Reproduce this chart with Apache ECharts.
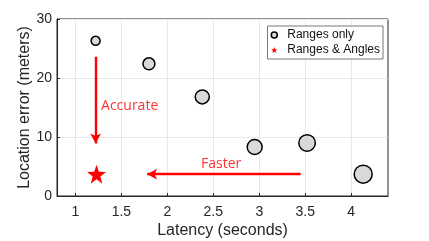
<!DOCTYPE html>
<html><head><meta charset="utf-8">
<script src="https://cdn.jsdelivr.net/npm/echarts@6/dist/echarts.min.js"></script>
<style>html,body{margin:0;padding:0;background:#fff}#c{width:429px;height:241px}</style>
</head><body><div id="c"></div>
<script>
const latency = [1.22, 1.80, 2.38, 2.95, 3.52, 4.13];
const error = [26.3, 22.4, 16.8, 8.3, 9.0, 3.7];
const markerSize = [9, 12, 14, 15, 16.5, 18];
const starPoint = [1.23, 3.7];
const xTicks = [1, 1.5, 2, 2.5, 3, 3.5, 4];
const yTicks = [0, 10, 20, 30];
const accurateArrow = [[1.22, 23.6], [1.22, 8.9]];
const fasterArrow = [[3.45, 3.7], [1.78, 3.7]];
const annotations = [{text: 'Accurate', pos: [1.59, 15.3]}, {text: 'Faster', pos: [2.585, 5.36]}];

const chart = echarts.init(document.getElementById('c'), null, {renderer: 'canvas'});
const font = 'Liberation Sans, Arial, sans-serif';
const redc = '#ff0000';
const starPath = 'path://M0,-10 L2.35,-3.24 L9.51,-3.09 L3.8,1.24 L5.88,8.09 L0,4 L-5.88,8.09 L-3.8,1.24 L-9.51,-3.09 L-2.35,-3.24 Z';
chart.setOption({
  animation: false,
  backgroundColor: '#fff',
  grid: {left: 57, right: 41, top: 19, bottom: 45, show: true, borderColor: '#262626', borderWidth: 1,
    containLabel: false, outerBoundsMode: 'none'},
  legend: {
    right: 46, top: 26, orient: 'vertical', itemGap: 3, itemWidth: 16, itemHeight: 6,
    padding: [3, 3, 3, 3],
    borderColor: '#555', borderWidth: 0.8, backgroundColor: '#fff',
    textStyle: {fontFamily: font, fontSize: 12, color: '#111', padding: [0, 0, 0, 0]},
    data: [
      {name: 'Ranges only', icon: 'circle', itemStyle: {color: '#d9d9d9', borderColor: '#000', borderWidth: 1.5}},
      {name: 'Ranges & Angles', icon: starPath, itemStyle: {color: redc}}
    ]
  },
  xAxis: {
    type: 'value', min: 0.8, max: 4.4,
    name: 'Latency (seconds)', nameLocation: 'middle', nameGap: 27, nameMoveOverlap: false,
    nameTextStyle: {fontFamily: font, fontSize: 16, color: '#262626'},
    axisLine: {show: true, lineStyle: {color: '#262626'}},
    axisTick: {show: true, inside: true, length: 3, lineStyle: {color: '#262626'}, customValues: xTicks},
    axisLabel: {fontFamily: font, fontSize: 14, color: '#262626', margin: 9, customValues: xTicks},
    splitLine: {show: true, lineStyle: {color: '#e8e8e8'}, customValues: xTicks}
  },
  yAxis: {
    type: 'value', min: 0, max: 30, interval: 10,
    name: 'Location error (meters)', nameLocation: 'middle', nameGap: 24, nameMoveOverlap: false,
    nameTextStyle: {fontFamily: font, fontSize: 16, color: '#262626'},
    axisLine: {show: true, lineStyle: {color: '#262626'}},
    axisTick: {show: true, inside: true, length: 3, lineStyle: {color: '#262626'}},
    axisLabel: {fontFamily: font, fontSize: 14, color: '#262626', margin: 5},
    splitLine: {show: true, lineStyle: {color: '#e8e8e8'}}
  },
  series: [
    {
      name: 'Ranges only', type: 'scatter', z: 5,
      data: latency.map((x, i) => [x, error[i], markerSize[i]]),
      symbol: 'circle',
      symbolSize: v => v[2],
      itemStyle: {color: '#d9d9d9', borderColor: '#000', borderWidth: 1.5, opacity: 1}
    },
    {
      name: 'Ranges & Angles', type: 'scatter', z: 5,
      data: [starPoint],
      symbol: starPath,
      symbolSize: 19,
      itemStyle: {color: redc, opacity: 1}
    },
    {
      type: 'line', data: [], silent: true,
      markLine: {
        silent: true, animation: false,
        symbol: ['none', 'arrow'], symbolSize: [8, 10],
        lineStyle: {color: redc, width: 2.4, type: 'solid'},
        label: {show: false},
        data: [
          [{coord: accurateArrow[0]}, {coord: accurateArrow[1]}],
          [{coord: fasterArrow[0]}, {coord: fasterArrow[1]}]
        ]
      }
    },
    {
      type: 'scatter', silent: true, symbolSize: 0,
      data: annotations.map(a => ({value: a.pos, name: a.text})),
      label: {show: true, position: 'inside', formatter: p => p.name,
        fontFamily: 'Open Sans, sans-serif', fontSize: 14, color: redc}
    }
  ]
});
</script></body></html>
